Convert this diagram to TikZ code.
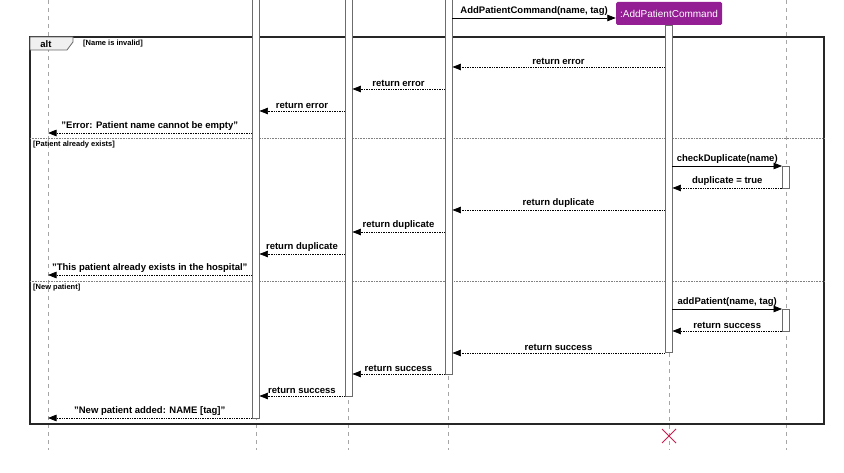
\documentclass[tikz,border=0pt]{standalone}
\usepackage{fontspec}
\setmainfont{Liberation Sans}
\usetikzlibrary{arrows.meta}
\tikzset{>={Triangle[length=8.5pt,width=6.5pt]}}
\definecolor{cmdpurple}{RGB}{148,30,148}
\definecolor{killred}{RGB}{200,30,80}
\tikzset{
  lifeline/.style={draw=gray!70, dash pattern=on 4pt off 4pt, line width=0.6pt},
  actbar/.style={draw=gray!85!black, fill=white, minimum width=7pt, inner sep=0pt, line width=0.9pt, anchor=north},
  call/.style={->, line width=0.7pt},
  ret/.style={->, densely dotted, line width=0.7pt},
  lbl/.style={font=\bfseries\fontsize{9.5}{11}\selectfont, above, inner sep=2.5pt},
  guard/.style={font=\bfseries\fontsize{7.5}{9}\selectfont, anchor=west, inner sep=0pt}
}

\begin{document}
\begin{tikzpicture}[x=1pt,y=-1pt]
\useasboundingbox (0,0) rectangle (844,473);

% lifelines
\coordinate (l1top) at (48,0);
\coordinate (l1bot) at (48,450);
\coordinate (l2top) at (256,0);
\coordinate (l2bot) at (256,450);
\coordinate (l3top) at (348,0);
\coordinate (l3bot) at (348,450);
\coordinate (l4top) at (448,0);
\coordinate (l4bot) at (448,450);
\coordinate (l5bot) at (669,450);
\coordinate (l6top) at (786,0);
\coordinate (l6bot) at (786,450);

\node[fill=cmdpurple, text=white, rounded corners=1.5pt, minimum width=106pt, minimum height=23pt,
      inner sep=0pt, font=\fontsize{10}{12}\selectfont] (cmd) at (669,13.5) {:AddPatientCommand};

\draw[lifeline] (l1top) -- (l1bot);
\draw[lifeline] (l2top) -- (l2bot);
\draw[lifeline] (l3top) -- (l3bot);
\draw[lifeline] (l4top) -- (l4bot);
\draw[lifeline] (cmd.south) -- (l5bot);
\draw[lifeline] (l6top) -- (l6bot);

% alt frame
\draw[line width=1.2pt, draw=black!85] (30,37) rectangle (824,424);
\draw[fill=gray!12, draw=gray!80!black, line width=0.8pt] (30,37) -- (73,37) -- (73,42) -- (67,50) -- (30,50) -- cycle;
\node[font=\bfseries\fontsize{9.5}{11}\selectfont, inner sep=0pt] (alt) at (46,44) {alt};
\node[guard] (g1) at (83,44) {[Name is invalid]};
\draw[densely dotted, gray, line width=0.6pt] (30,138) -- (824,138);
\node[guard] (g2) at (33,145) {[Patient already exists]};
\draw[densely dotted, gray, line width=0.6pt] (30,281) -- (824,281);
\node[guard] (g3) at (33,288) {[New patient]};

% activation bars
\node[actbar, minimum height=421pt] (b2) at (255.5,-3) {};
\node[actbar, minimum height=399pt] (b3) at (348.5,-3) {};
\node[actbar, minimum height=377pt] (b4) at (448.5,-3) {};
\node[actbar, minimum height=327pt] (b5) at (668.5,25) {};
\node[actbar, minimum height=22pt] (b6a) at (786,166) {};
\node[actbar, minimum height=22pt] (b6b) at (786,309) {};

% messages
\draw[call] (b4.east |- 0,18) -- (cmd.west |- 0,18) node[lbl, midway] {AddPatientCommand(name, tag)};

\draw[ret] (b5.west |- 0,67) -- (b4.east |- 0,67) node[lbl, midway] {return error};
\draw[ret] (b4.west |- 0,89) -- (b3.east |- 0,89) node[lbl, midway] {return error};
\draw[ret] (b3.west |- 0,111) -- (b2.east |- 0,111) node[lbl, midway] {return error};
\draw[ret] (b2.west |- 0,133) -- (l1top |- 0,133) node[lbl, midway] {"Error: Patient name cannot be empty"};

\draw[call] (b5.east |- 0,166) -- (b6a.west |- 0,166) node[lbl, midway] {checkDuplicate(name)};
\draw[ret] (b6a.west |- 0,188) -- (b5.east |- 0,188) node[lbl, midway] {duplicate = true};
\draw[ret] (b5.west |- 0,210) -- (b4.east |- 0,210) node[lbl, midway] {return duplicate};
\draw[ret] (b4.west |- 0,232) -- (b3.east |- 0,232) node[lbl, midway] {return duplicate};
\draw[ret] (b3.west |- 0,254) -- (b2.east |- 0,254) node[lbl, midway] {return duplicate};
\draw[ret] (b2.west |- 0,275) -- (l1top |- 0,275) node[lbl, midway] {"This patient already exists in the hospital"};

\draw[call] (b5.east |- 0,309) -- (b6b.west |- 0,309) node[lbl, midway] {addPatient(name, tag)};
\draw[ret] (b6b.west |- 0,331) -- (b5.east |- 0,331) node[lbl, midway] {return success};
\draw[ret] (b5.west |- 0,353) -- (b4.east |- 0,353) node[lbl, midway] {return success};
\draw[ret] (b4.west |- 0,374) -- (b3.east |- 0,374) node[lbl, midway] {return success};
\draw[ret] (b3.west |- 0,396) -- (b2.east |- 0,396) node[lbl, midway] {return success};
\draw[ret] (b2.west |- 0,418) -- (l1top |- 0,418) node[lbl, midway] {"New patient added: NAME [tag]"};

% destroy
\draw[killred, line width=1pt] (662,429) -- (676,443) (662,443) -- (676,429);
\end{tikzpicture}
\end{document}
